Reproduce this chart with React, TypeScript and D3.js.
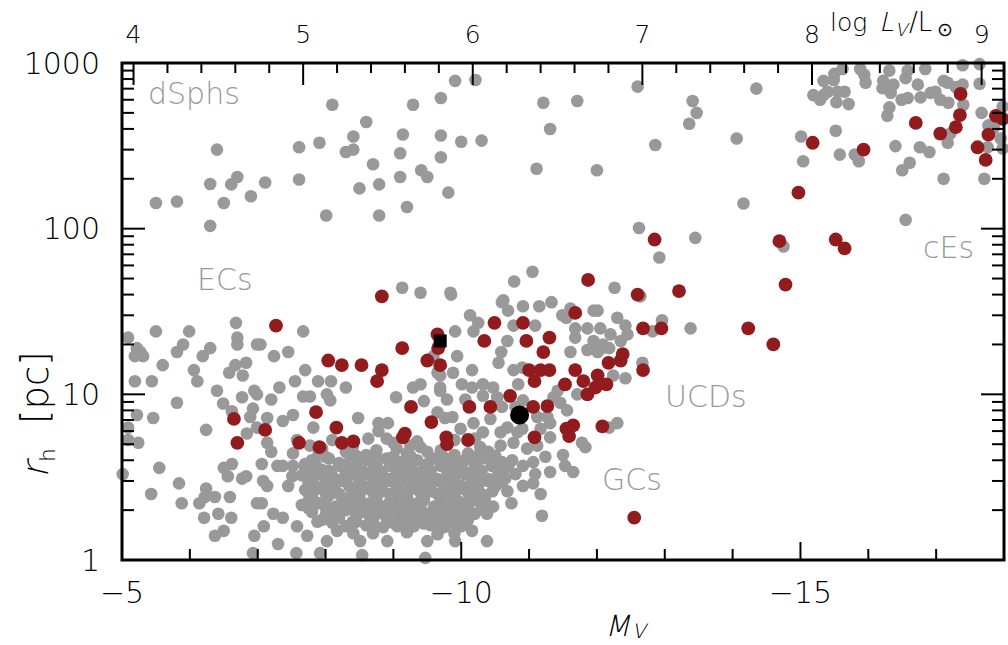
import React from 'react';
import * as d3 from 'd3';

// ---- data (M_V, r_h [pc]) ----
const dsphPoints: [number, number][] = [
  [-5.50,143],[-5.81,146],[-6.40,300],[-6.30,186],[-6.50,143],[-6.61,185],[-6.70,205],[-6.90,157],[-7.11,190],[-6.30,104],
  [-7.61,310],[-7.61,198],[-7.91,330],[-8.01,120],[-8.10,560],[-8.30,290],[-8.41,300],[-8.41,360],[-8.50,175],[-8.60,440],
  [-8.70,245],[-8.79,185],[-8.79,120],[-9.10,285],[-9.10,205],[-9.14,370],[-9.20,135],[-9.29,560],[-9.41,225],[-9.50,205],
  [-9.70,615],[-9.70,365],[-9.70,270],[-9.81,165],[-9.91,780],[-10.0,335],[-10.21,790],[-10.30,340],[-11.11,230],[-11.21,575],
  [-11.31,400],[-11.71,590],[-12.60,720],[-12.0,225],[-12.86,320],[-13.41,590],[-13.47,500],[-13.36,430],[-14.06,350],[-14.35,700],
  [-14.16,142],[-12.62,101],[-13.45,88],[-12.92,67],[-14.75,78],[-15.01,360],[-15.04,255],[-15.58,280],[-15.52,390],[-15.80,280],
  [-15.86,255],[-16.40,315],[-16.76,310],[-16.90,290],[-16.50,225],[-16.61,250],[-17.11,200],[-17.71,200],[-16.55,113],
];

const cePoints: [number, number][] = [
  [-15.19,640],[-15.34,640],[-15.29,600],[-15.40,670],[-15.34,780],[-15.50,860],[-15.62,920],[-15.49,790],[-15.55,670],[-15.65,670],
  [-15.53,580],[-15.71,565],[-15.88,920],[-15.94,850],[-15.96,760],[-16.22,780],[-16.21,705],[-16.33,660],[-16.37,740],[-16.31,900],
  [-16.31,540],[-16.28,480],[-16.49,600],[-16.58,615],[-16.55,810],[-16.58,900],[-16.73,740],[-16.77,620],[-16.84,920],[-16.92,660],
  [-16.99,670],[-17.06,600],[-17.18,575],[-17.11,780],[-17.17,760],[-17.29,715],[-17.39,740],[-17.40,560],[-17.39,970],[-17.64,985],
  [-17.64,750],[-17.67,500],[-17.77,420],[-17.85,405],[-17.98,545],[-17.95,350],[-17.98,305],[-17.76,310],[-17.17,330],[-17.21,375],
];

const ucdPoints: [number, number][] = [
  [-12.26,44],[-13.38,25],[-11.55,29],[-11.61,33],[-11.95,32],[-12.01,32],[-12.30,29],[-12.42,26],[-12.64,39],[-12.96,28],
  [-12.82,24],[-11.68,25],[-11.86,25],[-12.05,25],[-12.20,23],[-12.45,23],[-12.35,21],[-11.68,22],[-11.93,19],[-12.08,19],
  [-12.18,19],[-11.61,18],[-11.05,55],[-10.78,48],[-9.13,44],[-9.40,41],[-9.84,41],[-10.62,37],[-9.85,40],[-10.60,36],
  [-10.69,32],[-10.91,34],[-11.15,34],[-11.33,36],[-10.13,30],[-10.25,27],[-9.91,24],[-10.18,24],[-10.68,21],[-10.77,26],
  [-11.09,26],[-11.49,30],[-11.95,21],[-12.09,20],[-11.86,18.5],[-12.01,18],[-10.59,18],[-10.55,15.5],[-10.77,14],[-10.90,14.5],
  [-10.16,14],[-9.88,13.5],[-10.01,11.5],[-10.16,11],[-10.32,11.5],[-10.47,11],[-10.84,11.5],[-10.53,9.6],[-10.32,9.8],[-10.60,8.4],
  [-10.80,8.4],[-10.91,9.2],[-11.12,7.3],[-11.27,7.3],[-11.36,9.6],[-11.46,8.9],[-11.42,10.5],[-11.56,8.0],[-11.71,10],[-12.24,13],
  [-12.42,12.5],[-12.67,15.5],[-12.30,6.7],[-12.18,6.3],[-11.31,6.7],[-11.17,6.2],[-11.31,5.5],[-10.90,6.2],[-10.83,5.9],[-10.77,5.1],
  [-10.58,4.9],[-10.28,4.8],[-10.97,4.7],[-11.12,4.9],[-11.24,4.2],[-11.06,3.9],[-10.91,3.7],[-11.50,4.3],[-11.78,5.1],[-11.83,4.8],
  [-11.53,3.7],[-11.65,3.4],[-11.31,3.4],[-11.09,3.3],[-11.17,2.5],[-11.19,1.85],[-10.74,2.2],[-10.47,2.1],[-10.38,1.9],[-10.16,1.5],
  [-9.91,1.3],[-10.38,1.3],[-10.91,2.8],[-11.06,2.9],[-10.68,2.6],[-10.46,2.6],[-9.69,11],[-9.79,9.3],[-9.87,7.3],[-9.99,6.2],
  [-10.18,6.7],[-10.32,5.9],[-10.43,7.1],[-10.58,5.9],[-10.68,6.3],[-10.06,9.3],[-9.94,17],
];

const ecPoints: [number, number][] = [
  [-5.09,22],[-5.50,24],[-5.99,24],[-6.68,27],[-6.70,22],[-6.70,20],[-6.99,20],[-7.04,20],[-7.67,24],[-7.45,18],
  [-7.24,17],[-5.22,19],[-5.27,18],[-5.19,17],[-5.31,17],[-5.90,20],[-5.81,18],[-6.30,19],[-6.19,17],[-5.60,15],
  [-6.06,14],[-6.11,12],[-5.19,12],[-5.44,12],[-6.58,13.5],[-6.67,15],[-6.83,15.5],[-6.78,13],[-6.40,10.5],[-6.95,10.5],
  [-6.99,10],[-6.77,9.6],[-7.20,9.3],[-7.32,11],[-7.55,12],[-7.70,14],[-7.89,12],[-8.08,12],[-8.30,11],[-7.67,9.7],
  [-7.77,9.7],[-8.02,10],[-8.07,9.2],[-9.04,9.6],[-9.29,11],[-9.40,11.5],[-9.45,9.1],[-9.69,10.5],[-9.69,13],[-9.65,13.5],
  [-9.59,17],[-5.81,8.9],[-6.49,8.8],[-6.62,7.9],[-6.93,8.2],[-6.89,7.3],[-7.14,7.2],[-7.37,6.9],[-7.52,7.5],[-8.48,7.2],
  [-8.78,6.7],[-8.92,6.7],[-8.78,6.0],[-9.65,7.8],[-9.76,7.2],[-5.46,7.2],[-5.22,7.5],[-5.09,6.3],[-5.09,5.3],[-5.24,5.1],
  [-6.24,6.1],[-6.84,5.8],[-6.99,6.3],[-7.82,6.3],[-7.58,5.3],[-8.63,5.4],[-9.00,5.1],[-9.25,4.9],[-7.14,5.1],[-7.20,4.5],
  [-7.77,4.9],[-7.52,4.4],[-5.01,3.3],[-5.55,3.6],[-5.84,2.9],[-5.43,2.5],[-5.88,2.2],[-6.14,2.2],[-6.24,2.7],[-6.22,2.4],
  [-6.37,2.4],[-6.59,2.4],[-6.21,1.8],[-6.42,1.9],[-6.61,1.8],[-6.37,1.4],[-6.50,1.5],[-6.95,1.4],[-7.09,1.6],[-6.93,1.1],
  [-6.99,2.2],[-7.06,2.2],[-6.56,3.2],[-6.77,3.1],[-6.83,3.2],[-6.50,3.6],[-6.62,3.8],[-7.06,3.8],[-7.08,3.0],[-7.14,2.8],
  [-7.29,3.7],[-7.37,3.7],[-7.51,3.2],[-7.45,2.8],[-7.23,1.9],[-7.37,1.8],[-7.30,1.25],[-7.57,1.1],[-7.58,1.6],[-7.73,1.4],
  [-7.52,3.7],[-7.70,3.8],[-7.92,1.1],[-8.02,1.3],[-8.54,1.07],[-8.51,1.3],[-8.91,1.3],[-9.50,1.3],[-9.47,1.03],[-9.06,1.6],
  [-8.17,1.5],[-7.88,1.7],[-8.41,1.45],
];

const gcCorePoints: [number, number][] = [
  [-7.9,4.4],[-8.3,4.5],[-8.6,4.3],[-9.2,4.4],[-9.5,4.5],[-9.9,4.3],[-10.1,4.4],[-10.4,4.5],
  [-7.8,4.0],[-8.05,4.1],[-8.35,3.9],[-8.6,4.0],[-8.9,4.1],[-9.1,3.9],[-9.35,4.0],[-9.6,4.1],[-9.85,3.9],[-10.05,4.0],[-10.3,4.1],[-10.6,3.9],[-10.75,4.0],
  [-7.7,3.6],[-7.95,3.5],[-8.2,3.7],[-8.45,3.6],[-8.7,3.5],[-8.95,3.7],[-9.2,3.6],[-9.45,3.5],[-9.7,3.7],[-9.95,3.6],[-10.2,3.5],[-10.45,3.7],[-10.65,3.6],
  [-7.65,3.25],[-7.9,3.3],[-8.1,3.2],[-8.35,3.25],[-8.6,3.3],[-8.85,3.2],[-9.1,3.25],[-9.3,3.3],[-9.55,3.2],[-9.8,3.25],[-10.05,3.3],[-10.3,3.2],[-10.55,3.25],[-10.8,3.3],
  [-7.75,2.95],[-8.0,2.9],[-8.25,3.0],[-8.5,2.95],[-8.7,2.9],[-8.95,3.0],[-9.2,2.95],[-9.45,2.9],[-9.65,3.0],[-9.9,2.95],[-10.15,2.9],[-10.4,3.0],[-10.6,2.95],
  [-7.7,2.65],[-7.9,2.7],[-8.15,2.6],[-8.4,2.65],[-8.6,2.7],[-8.85,2.6],[-9.05,2.65],[-9.3,2.7],[-9.55,2.6],[-9.8,2.65],[-10.0,2.7],[-10.25,2.6],
  [-7.8,2.4],[-8.05,2.45],[-8.3,2.35],[-8.5,2.4],[-8.75,2.45],[-9.0,2.35],[-9.2,2.4],[-9.45,2.45],[-9.7,2.35],[-9.9,2.4],[-10.15,2.45],[-10.35,2.35],
  [-7.65,2.15],[-7.9,2.2],[-8.15,2.1],[-8.4,2.15],[-8.65,2.2],[-8.85,2.1],[-9.1,2.15],[-9.35,2.2],[-9.6,2.1],[-9.8,2.15],[-10.05,2.2],[-10.3,2.1],
  [-7.8,1.95],[-8.05,1.9],[-8.3,2.0],[-8.55,1.95],[-8.75,1.9],[-9.0,2.0],[-9.25,1.95],[-9.5,1.9],[-9.7,2.0],[-9.95,1.95],[-10.2,1.9],
  [-7.95,1.75],[-8.2,1.8],[-8.45,1.7],[-8.7,1.75],[-8.9,1.8],[-9.15,1.7],[-9.4,1.75],[-9.6,1.8],[-9.85,1.7],[-10.1,1.75],
  [-8.3,1.6],[-8.6,1.62],[-8.85,1.58],[-9.3,1.6],[-9.55,1.62],[-9.75,1.58],[-10.0,1.6],
  [-8.7,1.45],[-9.2,1.47],[-9.65,1.43],[-9.9,1.45],
  [-7.95,4.7],[-8.4,4.8],[-8.75,4.6],[-9.05,4.7],[-9.4,4.8],[-9.7,4.6],
  [-8.1,5.3],[-8.9,5.4],[-9.35,5.2],[-9.9,5.3],[-10.2,5.4],
  [-8.0,4.2],[-8.45,4.25],[-8.75,4.15],[-9.0,4.2],[-9.25,4.25],[-9.75,4.15],[-10.2,4.2],[-10.5,4.25],
  [-7.85,3.8],[-8.2,3.85],[-8.45,3.75],[-8.75,3.8],[-9.0,3.85],[-9.25,3.75],[-9.5,3.8],[-9.75,3.85],[-10.0,3.75],[-10.2,3.8],[-10.45,3.85],[-10.7,3.75],
  [-7.8,3.42],[-8.05,3.45],[-8.3,3.38],[-8.55,3.42],[-8.8,3.45],[-9.05,3.38],[-9.3,3.42],[-9.55,3.45],[-9.8,3.38],[-10.05,3.42],[-10.3,3.45],[-10.55,3.38],
  [-7.8,3.1],[-8.0,3.12],[-8.25,3.08],[-8.5,3.1],[-8.7,3.12],[-8.95,3.08],[-9.2,3.1],[-9.4,3.12],[-9.65,3.08],[-9.9,3.1],[-10.15,3.12],[-10.4,3.08],[-10.65,3.1],
  [-7.85,2.8],[-8.1,2.82],[-8.35,2.78],[-8.55,2.8],[-8.8,2.82],[-9.05,2.78],[-9.3,2.8],[-9.55,2.82],[-9.75,2.78],[-10.0,2.8],[-10.25,2.82],[-10.5,2.78],
  [-7.75,2.52],[-8.0,2.55],[-8.2,2.5],[-8.45,2.52],[-8.7,2.55],[-8.95,2.5],[-9.15,2.52],[-9.4,2.55],[-9.65,2.5],[-9.85,2.52],[-10.1,2.55],[-10.3,2.5],
  [-7.75,2.27],[-8.0,2.3],[-8.25,2.25],[-8.5,2.27],[-8.75,2.3],[-8.95,2.25],[-9.2,2.27],[-9.45,2.3],[-9.7,2.25],[-9.95,2.27],[-10.2,2.3],
  [-7.75,2.05],[-8.0,2.07],[-8.25,2.03],[-8.45,2.05],[-8.7,2.07],[-8.95,2.03],[-9.2,2.05],[-9.4,2.07],[-9.65,2.03],[-9.9,2.05],[-10.1,2.07],
  [-8.0,1.85],[-8.2,1.87],[-8.45,1.83],[-8.65,1.85],[-8.9,1.87],[-9.1,1.83],[-9.35,1.85],[-9.6,1.87],[-9.8,1.83],[-10.05,1.85],
  [-8.1,1.68],[-8.4,1.7],[-8.7,1.66],[-9.0,1.68],[-9.2,1.7],[-9.45,1.66],[-9.7,1.68],[-9.95,1.7],
];

const redPoints: [number, number][] = [
  [-17.36,650],[-17.35,485],[-17.29,410],[-17.06,375],[-16.70,435],[-17.88,480],[-17.98,460],[-17.77,370],[-17.61,310],[-17.73,260],
  [-15.93,300],[-15.18,330],[-14.97,165],[-15.52,86],[-15.65,76],[-14.69,84],[-14.78,46],[-12.85,86],[-11.87,49],[-12.60,40],
  [-13.21,42],[-11.68,31],[-12.68,25],[-12.95,25],[-14.23,25],[-14.60,20],[-12.17,15.5],[-12.35,16],[-12.38,17.5],
  [-10.49,27],[-10.91,27],[-10.34,21],[-10.96,21],[-11.30,22],[-11.21,18],[-11.00,14],[-11.17,14],[-11.30,14],[-11.08,12],
  [-11.53,11.5],[-11.68,14],[-11.80,12],[-11.86,10],[-11.98,11],[-12.01,13],[-12.14,11.5],[-12.68,14],[-10.72,9.8],[-10.12,8.4],
  [-10.43,8.4],[-11.06,8.4],[-11.27,8.5],[-11.65,6.5],[-11.55,6.2],[-11.59,5.6],[-12.08,6.4],[-11.08,5.5],[-9.78,5.5],[-9.79,5.0],
  [-10.10,5.3],[-12.55,1.8],
  [-8.83,39],[-7.27,26],[-9.13,19],[-9.65,23],[-9.66,19],[-9.50,16],[-9.69,15],[-8.04,16],[-8.24,15],[-8.53,15],
  [-8.83,14],[-8.76,12],[-9.26,8.4],[-9.56,6.8],[-7.86,7.8],[-6.65,7.1],[-7.11,6.1],[-8.16,6.3],[-9.17,5.8],[-9.14,5.5],
  [-6.70,5.1],[-7.61,5.1],[-7.91,4.8],[-8.24,5.1],[-8.41,5.2],
];

const squarePoint: [number, number] = [-9.69, 21];
const circlePoint: [number, number] = [-10.86, 7.5];

const bottomMajor = [-5, -10, -15];
const bottomMinor = d3.range(-5, -18.5, -1);
const topMajor = [4, 5, 6, 7, 8, 9];
const topMinor = d3.range(4, 9.01, 0.2);
const leftMajor = [1, 10, 100, 1000];
const leftMinor = [1, 10, 100].flatMap((d) => d3.range(2, 10).map((k) => d * k));

const MSUN = 4.83;

const GRAY = '#999999';
const RED = '#921b1e';
const FONT = "'DejaVu Sans', sans-serif";

export default function App() {
  const L = 122, R = 1004, T = 63, B = 560;
  const x = d3.scaleLinear().domain([-5, -18]).range([L, R]);
  const y = d3.scaleLog().domain([1, 1000]).range([B, T]);
  const xTop = d3.scaleLinear().domain([(MSUN + 5) / 2.5, (MSUN + 18) / 2.5]).range([L, R]);
  const gray = [...dsphPoints, ...cePoints, ...ucdPoints, ...ecPoints, ...gcCorePoints];

  return (
    <svg width={1008} height={645} style={{ position: 'absolute', left: 0, top: 0, background: '#fff' }}
      fontFamily={FONT} fontWeight={200}>
      <rect x={0} y={0} width={1008} height={645} fill="#fff" />
      {gray.map((d, i) => (
        <circle key={'g' + i} cx={x(d[0])} cy={y(d[1])} r={6.3} fill={GRAY} />
      ))}
      {redPoints.map((d, i) => (
        <circle key={'r' + i} cx={x(d[0])} cy={y(d[1])} r={6.9} fill={RED} />
      ))}
      <rect x={x(squarePoint[0]) - 6.5} y={y(squarePoint[1]) - 6.5} width={13} height={13} fill="#000" />
      <circle cx={x(circlePoint[0])} cy={y(circlePoint[1])} r={9.5} fill="#000" />

      {/* ticks */}
      <g stroke="#000" strokeWidth={2}>
        {bottomMinor.map((v) => (
          <line key={'bm' + v} x1={x(v)} x2={x(v)} y1={B} y2={B - (bottomMajor.includes(v) ? 18 : 11)} />
        ))}
        {topMinor.map((v) => {
          const major = Math.abs(v - Math.round(v)) < 1e-6;
          return <line key={'tm' + v} x1={xTop(v)} x2={xTop(v)} y1={T} y2={T + (major ? 22 : 10)} />;
        })}
        {[...leftMajor, ...leftMinor].map((v) => {
          const major = leftMajor.includes(v);
          return (
            <g key={'lm' + v}>
              <line x1={L} x2={L + (major ? 23 : 12)} y1={y(v)} y2={y(v)} />
              <line x1={R} x2={R - (major ? 23 : 12)} y1={y(v)} y2={y(v)} />
            </g>
          );
        })}
      </g>
      <rect x={L} y={T} width={R - L} height={B - T} fill="none" stroke="#000" strokeWidth={3} />

      {/* tick labels */}
      <g fontSize={30} fill="#000">
        {leftMajor.map((v) => (
          <text key={'ll' + v} x={100} y={y(v)} textAnchor="end" dominantBaseline="central">{v}</text>
        ))}
        {bottomMajor.map((v) => (
          <text key={'bl' + v} x={x(v)} y={603} textAnchor="middle">{'\u2212' + Math.abs(v)}</text>
        ))}
      </g>
      <g fontSize={25} fill="#000">
        {topMajor.map((v) => (
          <text key={'tl' + v} x={xTop(v)} y={43} textAnchor="middle">{v}</text>
        ))}
      </g>

      {/* top axis title: log L_V / L_sun */}
      <g fill="#000">
        <text x={830} y={31} fontSize={25}>log</text>
        <text transform="translate(879,31) skewX(-13)" fontSize={26}>L</text>
        <text transform="translate(895,36) skewX(-13)" fontSize={18}>V</text>
        <text x={909} y={31} fontSize={26}>/L</text>
        <text x={937} y={36} fontSize={19}>{'\u2299'}</text>
      </g>

      {/* bottom axis title: M_V */}
      <g fill="#000">
        <text transform="translate(605,636) skewX(-13)" fontSize={29}>M</text>
        <text transform="translate(632,638) skewX(-13)" fontSize={20}>V</text>
      </g>

      {/* left axis title: r_h [pc] */}
      <g fill="#000">
        <text transform="translate(48,478) rotate(-90) skewX(-13)" fontSize={37}>r</text>
        <text transform="translate(55,462) rotate(-90)" fontSize={22}>h</text>
        <text transform="translate(48,424) rotate(-90)" fontSize={37}>[pc]</text>
      </g>

      {/* region labels */}
      <g fontSize={30} fill={GRAY}>
        <text x={148} y={104}>dSphs</text>
        <text x={197} y={290}>ECs</text>
        <text x={665} y={407}>UCDs</text>
        <text x={602} y={490}>GCs</text>
        <text x={923} y={258}>cEs</text>
      </g>
    </svg>
  );
}
